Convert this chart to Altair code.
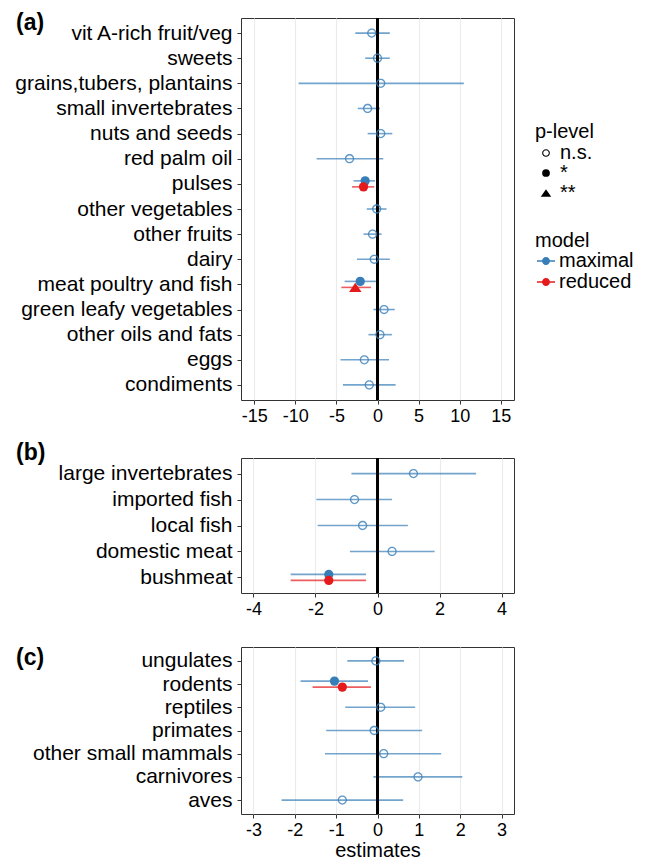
import altair as alt
import pandas as pd

FONT = "Liberation Sans, Arial, sans-serif"

panel_labels = ["(a)", "(b)", "(c)"]
models = ["maximal", "reduced"]
model_colors = ["#377EB8", "#E41A1C"]
p_levels = ["n.s.", "*", "**"]

# ---------------- panel (a) ----------------
a_cats = ["vit A-rich fruit/veg", "sweets", "grains,tubers, plantains",
          "small invertebrates", "nuts and seeds", "red palm oil", "pulses",
          "other vegetables", "other fruits", "dairy", "meat poultry and fish",
          "green leafy vegetables", "other oils and fats", "eggs", "condiments"]
a_max_est = [-0.7, 0.0, 0.4, -1.2, 0.4, -3.4, -1.5, -0.1, -0.6, -0.4, -2.1, 0.8, 0.3, -1.6, -1.0]
a_max_lo = [-2.7, -1.5, -9.6, -2.4, -1.2, -7.4, -2.9, -1.3, -1.7, -2.5, -4.0, -0.5, -1.1, -4.5, -4.2]
a_max_hi = [1.5, 1.5, 10.5, 0.3, 1.8, 0.7, -0.3, 1.1, 0.5, 1.5, -0.2, 2.1, 1.75, 1.4, 2.2]
a_max_p = ["n.s.", "n.s.", "n.s.", "n.s.", "n.s.", "n.s.", "*", "n.s.", "n.s.", "n.s.", "*",
           "n.s.", "n.s.", "n.s.", "n.s."]
a_red_cats = ["pulses", "meat poultry and fish"]
a_red_est = [-1.7, -2.7]
a_red_lo = [-3.1, -4.4]
a_red_hi = [-0.4, -0.8]
a_red_p = ["*", "**"]
a_ticks = [-15, -12.5, -10, -7.5, -5, -2.5, 0, 2.5, 5, 7.5, 10, 12.5, 15]
a_domain = [-16.6, 16.6]

# ---------------- panel (b) ----------------
b_cats = ["large invertebrates", "imported fish", "local fish", "domestic meat", "bushmeat"]
b_max_est = [1.16, -0.74, -0.48, 0.47, -1.57]
b_max_lo = [-0.84, -1.97, -1.93, -0.89, -2.8]
b_max_hi = [3.18, 0.47, 0.98, 1.84, -0.37]
b_max_p = ["n.s.", "n.s.", "n.s.", "n.s.", "*"]
b_red_cats = ["bushmeat"]
b_red_est = [-1.57]
b_red_lo = [-2.8]
b_red_hi = [-0.37]
b_red_p = ["*"]
b_ticks = [-4, -3, -2, -1, 0, 1, 2, 3, 4]
b_domain = [-4.4, 4.4]

# ---------------- panel (c) ----------------
c_cats = ["ungulates", "rodents", "reptiles", "primates", "other small mammals",
          "carnivores", "aves"]
c_max_est = [-0.04, -1.04, 0.08, -0.08, 0.15, 0.98, -0.85]
c_max_lo = [-0.73, -1.86, -0.78, -1.24, -1.27, -0.1, -2.32]
c_max_hi = [0.64, -0.23, 0.91, 1.08, 1.54, 2.05, 0.62]
c_max_p = ["n.s.", "*", "n.s.", "n.s.", "n.s.", "n.s.", "n.s."]
c_red_cats = ["rodents"]
c_red_est = [-0.85]
c_red_lo = [-1.57]
c_red_hi = [-0.16]
c_red_p = ["*"]
c_ticks = [-3, -2.5, -2, -1.5, -1, -0.5, 0, 0.5, 1, 1.5, 2, 2.5, 3]
c_domain = [-3.3, 3.3]

RING = ("M -1,0 A 1,1 0 1,1 1,0 A 1,1 0 1,1 -1,0 Z "
        "M -0.72,0 A 0.72,0.72 0 1,0 0.72,0 A 0.72,0.72 0 1,0 -0.72,0 Z")
TRI = "M 0,-1 L 1.35,1 L -1.35,1 Z"
LINEDOT = ("M -1,-0.085 L 1,-0.085 L 1,0.085 L -1,0.085 Z "
           "M -0.44,0 A 0.44,0.44 0 1,1 0.44,0 A 0.44,0.44 0 1,1 -0.44,0 Z")

color_scale = alt.Scale(domain=models, range=model_colors)
stroke_scale = alt.Scale(domain=models, range=model_colors)
shape_scale = alt.Scale(domain=p_levels, range=[RING, "circle", TRI])

shape_legend = alt.Legend(
    title="p-level", orient="none", legendX=294, legendY=104,
    symbolSize=60, symbolOffset=1, labelOffset=4, rowPadding=0, titlePadding=1,
    padding=0, symbolStrokeWidth=0, symbolFillColor="black",
    symbolStrokeColor="transparent", symbolOpacity=1,
)
color_legend = alt.Legend(
    title="model", orient="none", legendX=294, legendY=213,
    symbolType=LINEDOT, symbolSize=324, symbolOffset=1, labelOffset=3,
    rowPadding=1, titlePadding=0, padding=0, symbolStrokeWidth=0, symbolOpacity=1,
)


def build_df(cats, me, ml, mh, mp, rc, re_, rl, rh, rp):
    rows = []
    for c, e, l, h, p in zip(cats, me, ml, mh, mp):
        rows.append(dict(cat=c, est=e, lo=l, hi=h, p=p, model="maximal",
                         slot="up" if c in rc else "mid"))
    for c, e, l, h, p in zip(rc, re_, rl, rh, rp):
        rows.append(dict(cat=c, est=e, lo=l, hi=h, p=p, model="reduced", slot="down"))
    return pd.DataFrame(rows)


def panel(df, cats, domain, ticks, major, label, label_y, height, title):
    test = f"datum.value % {major} === 0"
    xaxis = alt.Axis(
        values=ticks, title=title, grid=True,
        labelExpr=f"({test}) ? ((datum.value < 0 ? '-' : '') + abs(datum.value)) : ''",
        tickOpacity={"condition": {"test": test, "value": 1}, "value": 0},
        gridWidth={"condition": {"test": test, "value": 1.1}, "value": 0.6},
    )
    xscale = alt.Scale(domain=domain, nice=False, zero=False)
    yenc = alt.Y("cat:N", sort=cats, scale=alt.Scale(type="point", padding=0.6),
                 axis=alt.Axis(title=None))
    base = alt.Chart(df)
    rules, points = [], []
    for slot, off in [("mid", 0), ("up", -3), ("down", 3)]:
        sub = base.transform_filter(alt.datum.slot == slot)
        rules.append(sub.mark_rule(strokeWidth=1.6, opacity=0.7, yOffset=off).encode(
            x=alt.X("lo:Q", scale=xscale, axis=xaxis),
            x2="hi:Q",
            y=yenc,
            stroke=alt.Stroke("model:N", scale=stroke_scale, legend=color_legend),
        ))
        points.append(sub.mark_point(filled=True, size=86, yOffset=off, strokeWidth=0).encode(
            x=alt.X("est:Q", scale=xscale, axis=xaxis),
            y=yenc,
            color=alt.Color("model:N", scale=color_scale, legend=color_legend),
            shape=alt.Shape("p:N", scale=shape_scale, legend=shape_legend),
            opacity=alt.condition(alt.datum.p == "n.s.", alt.value(0.8), alt.value(1.0)),
        ))
    zero = base.mark_rule(color="black", strokeWidth=2).encode(x=alt.datum(0))
    txt = alt.Chart(pd.DataFrame({"label": [label]})).mark_text(
        align="left", baseline="alphabetic", fontSize=23, fontWeight="bold",
        font=FONT, color="black"
    ).encode(x=alt.value(-225), y=alt.value(label_y), text="label:N")
    return alt.layer(*rules, zero, *points, txt).properties(width=273, height=height)


df_a = build_df(a_cats, a_max_est, a_max_lo, a_max_hi, a_max_p,
                a_red_cats, a_red_est, a_red_lo, a_red_hi, a_red_p)
df_b = build_df(b_cats, b_max_est, b_max_lo, b_max_hi, b_max_p,
                b_red_cats, b_red_est, b_red_lo, b_red_hi, b_red_p)
df_c = build_df(c_cats, c_max_est, c_max_lo, c_max_hi, c_max_p,
                c_red_cats, c_red_est, c_red_lo, c_red_hi, c_red_p)

pa = panel(df_a, a_cats, a_domain, a_ticks, 5, panel_labels[0], 12, 382, None)
pb = panel(df_b, b_cats, b_domain, b_ticks, 2, panel_labels[1], 2, 135, None)
pc = panel(df_c, c_cats, c_domain, c_ticks, 1, panel_labels[2], 18, 167, "estimates")

inner = alt.VConcatChart(vconcat=[pb, pc], spacing=54, bounds="flush").resolve_scale(
    x="independent", y="independent")
chart = alt.VConcatChart(vconcat=[pa, inner], spacing=58, bounds="flush").resolve_scale(
    x="independent", y="independent", color="shared", shape="shared", stroke="shared"
).properties(
    padding={"left": 14, "top": 11, "right": 5, "bottom": 2}
).configure_axis(
    labelFont=FONT, titleFont=FONT, labelColor="black", titleColor="black",
    tickColor="#333333", tickSize=4, tickWidth=1, domain=False,
    gridColor="#EBEBEB", titleFontWeight="normal", titleFontSize=20,
).configure_axisX(
    labelFontSize=18, labelPadding=3, titlePadding=1,
).configure_axisY(
    labelFontSize=21, labelPadding=5, gridWidth=1.1, labelLimit=400,
).configure_legend(
    titleFont=FONT, labelFont=FONT, titleFontSize=20, labelFontSize=20,
    titleFontWeight="normal", titleColor="black", labelColor="black",
).configure_view(
    stroke="#333333", strokeWidth=1
)

chart.save("out.html", embed_options={"renderer": "svg", "actions": False})
